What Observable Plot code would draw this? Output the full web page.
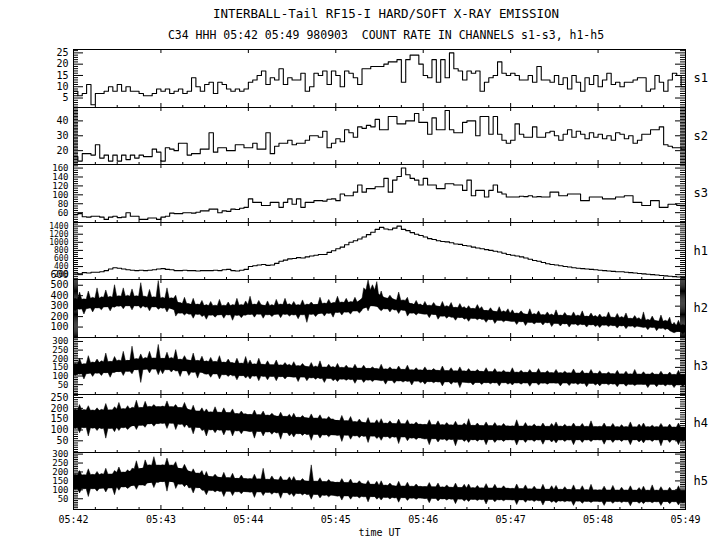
<!DOCTYPE html>
<html><head><meta charset="utf-8">
<script src="https://cdn.jsdelivr.net/npm/d3@7"></script>
<script src="https://cdn.jsdelivr.net/npm/@observablehq/plot@0.6"></script>
<style>
body{margin:0;background:#fff;}
#wrap{position:relative;width:720px;height:550px;font-family:"DejaVu Sans Mono",monospace;color:#000;overflow:hidden;}
.t{position:absolute;left:26px;width:720px;text-align:center;white-space:pre;line-height:1;}
.panel{position:absolute;left:0;}
</style></head><body>
<div id="wrap">
<div class="t" style="top:8px;font-size:12.5px">INTERBALL-Tail RF15-I HARD/SOFT X-RAY EMISSION</div>
<div class="t" style="top:30px;font-size:11.5px">C34 HHH 05:42 05:49 980903  COUNT RATE IN CHANNELS s1-s3, h1-h5</div>
</div>
<script>
// time tick labels (minutes) and channel names
const minuteLabels = ["05:42","05:43","05:44","05:45","05:46","05:47","05:48","05:49"];
const channels = ["s1","s2","s3","h1","h2","h3","h4","h5"];

// soft channels & h1: count rate per 3 s bin, 05:42:00 -> 05:49:00 (140 bins)
const s1 = [8,6,7,11,2,7,7,8,10,8, 11,8,10,8,8,7,6,6,7,9, 8,9,7,8,9,7,8,14,10,8, 11,12,7,12,11,9,8,9,8,9,
 12,13,15,17,11,14,13,18,11,14, 13,13,16,8,10,16,15,17,11,17, 15,10,17,16,14,11,18,18,19,19,
 19,20,21,21,22,12,22,24,24,20, 15,14,22,12,22,14,25,18,17,13, 17,16,17,8,12,14,15,21,16,15,
 16,15,13,13,15,12,19,13,13,12, 15,11,14,9,15,12,8,14,11,15, 10,13,16,11,12,10,12,12,13,14,
 14,8,9,15,12,8,13,16,15,10];
const s2 = [16,13,18,18,17,24,15,17,13,17, 13,17,14,17,15,17,16,16,21,19, 13,22,21,20,25,25,17,18,18,21,
 21,32,19,22,22,20,20,24,24,22, 22,25,21,21,32,18,23,25,25,27, 24,25,25,27,30,30,29,33,22,25,
 28,26,34,32,29,36,35,37,36,41, 34,34,43,43,38,38,40,40,45,39, 39,31,42,34,34,47,34,32,32,39,
 40,40,30,43,43,31,43,31,27,25, 27,38,31,29,29,36,29,29,32,33, 30,27,31,34,29,33,31,28,32,29,
 31,28,30,27,32,31,28,30,25,27, 31,31,34,34,36,24,23,22,22,21];
const s3 = [56,58,51,50,52,52,50,45,50,52, 49,50,60,52,52,45,45,48,48,45, 50,52,59,58,58,60,60,59,61,64,
 64,68,68,60,64,63,68,67,70,72, 91,83,83,76,76,83,83,72,83,91, 79,91,72,83,83,87,87,86,90,91,
 87,102,98,98,106,122,106,114,114,118, 118,137,106,133,141,160,145,137,133,122, 137,122,122,114,114,125,125,122,122,110,
 133,98,110,110,95,110,122,106,102,95, 95,95,97,96,98,95,96,95,95,106, 106,98,98,102,102,102,87,87,95,95,
 95,91,91,91,95,95,98,98,83,83, 76,76,87,87,72,72,79,79,76,76];
const h1 = [240,220,250,240,260,260,270,300,340,370, 360,340,320,310,300,310,300,310,320,340, 350,330,320,300,300,310,300,300,290,300,
 300,300,310,300,320,330,300,290,310,330, 400,420,440,450,430,440,480,530,560,590, 600,620,610,640,660,680,700,700,750,790,
 840,880,940,1000,1040,1080,1130,1190,1250,1320, 1370,1330,1310,1350,1400,1320,1290,1240,1200,1170, 1130,1090,1070,1040,1020,1010,990,960,950,920,
 910,880,860,840,820,800,780,760,730,700, 680,660,640,610,580,550,530,500,470,450, 440,420,400,390,370,360,350,340,330,320,
 310,300,290,280,270,270,260,250,240,230, 220,210,200,190,180,170,160,150,140,130];

// hard channels h2-h5: upper / lower extremes of the noisy trace per 3 s bin (140 bins)
const h2Hi = [370,430,365, 440,380,470, 385,450,390,500, 395,470,400, 460,395,520, 390,455,385,540, 380,470,375, 400,330,380, 320,370,315,350,
 310,340,305, 360,305,335, 310,370,312,345, 390,315,350, 305,345,310, 360,315,370,318, 340,310,355, 315,335,312, 380,325,360,330,
 390,335,370, 340,380,345, 470,545,500,530, 440,375,400, 360,430,355, 380,320,350,315, 340,305,330, 295,340,300, 330,285,320,290,
 300,275,310, 290,255,280, 245,290,250,270, 260,230,250, 220,270,225, 250,215,240,220, 260,210,235, 205,240,210, 250,200,230,205,
 220,195,240, 190,225,195, 230,180,205,185, 240,170,200, 155,210,160, 190,140,160,120];
const h2Lo = [250,265,220, 275,240,278, 260,288,250,285, 295,270,298, 260,297,275, 285,250,288,265, 275,240,278, 200,228,210, 218,180,215,195,
 170,208,190, 212,180,210, 160,205,185,208, 215,190,218, 180,212,195, 218,185,215,200, 210,175,212, 140,215,195, 228,200,225,190,
 235,210,238, 220,248,230, 290,250,298,300, 250,268,240, 258,225,255, 200,228,210,225, 218,185,215, 170,198,180, 188,160,185,170,
 150,178,165, 168,140,165, 130,158,145,155, 148,120,145, 110,138,125, 138,115,135,100, 128,105,125, 95,122,110, 118,95,115,100,
 90,112,100, 108,85,105, 80,102,90,100, 92,70,90, 60,82,70, 60,40,55,30];
const h3Hi = [170,200,168, 215,178,195, 185,230,182,210, 190,240,188, 270,198,225, 205,240,202,280, 200,235,205, 250,195,215, 190,230,188,212,
 185,205,182, 215,178,195, 175,200,172,210, 190,168,200, 165,185,163, 190,162,175,165, 180,158,170, 152,175,155, 185,150,165,152,
 170,148,160, 145,165,143, 160,142,150,141, 165,139,150, 138,155,136, 160,134,145,133, 150,132,140, 130,155,129, 145,128,150,127,
 140,126,135, 124,145,123, 140,122,130,121, 145,120,130, 119,135,118, 140,118,128,117, 135,117,125, 116,138,115, 130,114,135,113,
 128,112,120, 111,130,110, 125,110,135,109, 122,109,118, 108,125,107, 120,107,130,106];
const h3Lo = [100,108,80, 112,95,113, 100,116,90,117, 122,100,123, 110,133,60, 136,115,137,105, 110,133,120, 126,95,127, 100,118,85,119,
 108,90,109, 80,104,95, 98,75,99,85, 80,96,70, 94,75,95, 70,93,80,94, 90,65,91, 70,86,78, 82,60,83,70,
 65,78,72, 76,55,77, 60,73,65,74, 70,50,71, 55,68,62, 66,45,67,58, 50,64,58, 62,40,63, 50,60,30,61,
 58,45,59, 48,58,52, 57,40,58,50, 45,56,50, 56,38,57, 45,55,50,56, 55,40,56, 42,54,48, 53,35,54,45,
 40,52,46, 50,35,51, 38,48,42,49, 48,30,49, 35,47,40, 46,30,47,38];
const h4Hi = [195,215,192, 210,190,200, 193,220,191,205, 225,197,210, 203,235,202, 230,207,215,206, 208,232,206, 215,202,225, 188,212,186,200,
 195,182,205, 180,200,179, 195,174,185,173, 170,190,169, 185,167,175, 162,180,161,170, 175,157,165, 154,172,153, 168,150,160,149,
 142,165,141, 160,137,148, 132,155,131,145, 150,130,140, 128,148,127, 145,126,135,125, 124,145,123, 140,123,132, 122,138,121,130,
 150,120,130, 119,135,118, 132,118,128,117, 117,145,116, 132,117,125, 116,130,115,128, 135,116,124, 116,130,115, 128,115,140,114,
 115,130,114, 128,114,122, 114,135,113,125, 130,114,120, 114,128,113, 125,112,130,111];
const h4Lo = [105,85,108, 70,106,95, 104,60,105,90, 95,108,100, 118,100,119, 110,126,115,127, 128,105,129, 100,123,110, 108,80,109,95,
 70,98,85, 96,75,97, 70,93,80,94, 90,60,91, 70,88,78, 84,55,85,70, 65,80,72, 76,50,77, 60,74,66,75,
 72,45,73, 55,70,62, 68,40,69,58, 50,66,58, 64,35,65, 48,60,54,61, 56,30,57, 42,54,48, 53,25,54,45,
 40,52,46, 52,30,53, 40,51,45,52, 51,28,52, 40,51,45, 51,32,52,42, 38,51,45, 51,30,52, 40,51,44,52,
 51,32,52, 40,51,45, 51,30,52,42, 38,51,45, 51,25,52, 40,51,30,45];
const h5Hi = [185,205,182, 215,184,200, 188,218,186,205, 225,197,210, 218,260,216, 265,237,283,236, 238,275,236, 255,217,240, 192,215,191,205,
 200,172,185, 167,195,166, 190,162,180,161, 160,185,159, 218,157,175, 154,175,153,170, 172,150,160, 147,237,146, 165,144,155,143,
 140,160,139, 158,136,148, 130,150,129,145, 148,124,135, 120,145,119, 140,118,130,117, 116,138,115, 135,114,125, 112,135,111,128,
 130,110,122, 109,132,108, 128,108,120,107, 106,130,105, 125,104,118, 102,128,101,120, 122,101,115, 100,125,99, 120,99,128,98,
 98,118,97, 122,97,112, 97,120,96,110, 118,96,125, 96,115,95, 112,95,120,94];
const h5Lo = [100,80,103, 60,103,90, 106,85,107,70, 95,113,105, 123,100,124, 120,138,110,139, 143,90,144, 105,128,115, 108,80,109,95,
 70,93,85, 88,60,89, 65,86,75,87, 84,55,85, 65,82,72, 80,50,81,68, 60,76,68, 70,45,71, 52,66,58,67,
 62,40,63, 45,60,52, 58,30,59,45, 40,54,46, 52,28,53, 38,50,44,51, 48,25,49, 35,46,40, 44,20,45,35,
 32,43,38, 42,18,43, 30,41,36,42, 40,15,41, 28,38,32, 36,12,37,28, 25,34,30, 33,10,34, 22,32,27,33,
 31,10,32, 22,31,26, 30,8,31,22, 20,30,25, 30,10,31, 20,30,12,25];

// hard channels h2-h5: dense core of the trace per 10 s bin (42 bins)
const h2CoreLo = [270,280,290,300,300,290,280,230,220,210, 215,210,220,215,220,215,220,230,240,250, 300,270,260,230,220,200,190,180,170,160,
 150,140,140,130,125,120,115,110,105,95, 85,50];
const h2CoreHi = [360,370,380,390,390,380,370,320,310,300, 300,305,310,300,310,305,310,320,330,335, 450,370,350,310,300,290,280,270,250,240,
 225,215,210,205,200,195,190,185,175,160, 150,110];
const h3CoreLo = [110,115,118,125,135,138,135,128,120,110, 106,100,98,96,95,92,88,84,80,78, 75,72,70,68,66,64,62,60,60,59,
 58,58,57,57,56,55,54,52,50,50, 49,48];
const h3CoreHi = [165,175,180,185,195,200,198,192,185,180, 175,170,165,162,160,155,150,148,145,142, 140,137,135,132,130,128,126,124,122,120,
 118,117,116,115,114,112,110,109,108,107, 106,105];
const h4CoreLo = [110,108,106,110,120,128,130,125,110,100, 98,95,92,90,86,82,78,76,74,72, 70,68,66,62,58,56,55,54,54,53,
 53,53,53,53,53,53,53,53,53,53, 53,53];
const h4CoreHi = [190,188,190,195,200,205,205,200,185,180, 178,172,168,165,160,155,152,148,140,135, 130,128,126,124,122,121,120,118,117,116,
 115,115,114,114,114,113,113,112,112,112, 112,110];
const h5CoreLo = [105,105,108,115,125,140,145,130,110,95, 90,88,86,84,82,78,72,68,64,62, 60,56,54,52,50,48,46,45,44,43,
 42,40,38,36,35,34,33,33,32,32, 32,32];
const h5CoreHi = [180,182,185,195,215,235,235,215,190,170, 165,160,158,155,152,148,145,142,138,134, 128,122,118,116,114,112,110,108,107,106,
 104,102,100,99,98,97,96,95,95,94, 94,93];

// y tick labels per panel
const s1Ticks = [5,10,15,20,25];
const s2Ticks = [20,30,40];
const s3Ticks = [60,80,100,120,140,160];
const h1Ticks = [200,400,600,800,1000,1200,1400];
const h2Ticks = [100,200,300,400,500,600];
const h3Ticks = [50,100,150,200,250,300];
const h4Ticks = [50,100,150,200,250];
const h5Ticks = [50,100,150,200,250,300];

const BIN = 3, CORE = 10; // seconds per bin
const panels = [
  {name:"s1", values:s1, domain:[0.8,26.5], ticks:s1Ticks, minor:1, fs:10},
  {name:"s2", values:s2, domain:[10.7,49], ticks:s2Ticks, minor:1, fs:10},
  {name:"s3", values:s3, domain:[38,168], ticks:s3Ticks, minor:5, fs:9},
  {name:"h1", values:h1, domain:[80,1490], ticks:h1Ticks, minor:50, fs:8},
  {name:"h2", lo:h2Lo, hi:h2Hi, cLo:h2CoreLo, cHi:h2CoreHi, domain:[0,555], ticks:h2Ticks, minor:10, fs:10},
  {name:"h3", lo:h3Lo, hi:h3Hi, cLo:h3CoreLo, cHi:h3CoreHi, domain:[-7,323], ticks:h3Ticks, minor:10, fs:9},
  {name:"h4", lo:h4Lo, hi:h4Hi, cLo:h4CoreLo, cHi:h4CoreHi, domain:[-4,264], ticks:h4Ticks, minor:10, fs:10},
  {name:"h5", lo:h5Lo, hi:h5Hi, cLo:h5CoreLo, cHi:h5CoreHi, domain:[-10,309], ticks:h5Ticks, minor:10, fs:9}
];

const tops = [49,107,164,222,279,337,394,452,509];
const LEFT = 73, RIGHT = 685, W = RIGHT - LEFT;
const xMajor = d3.range(0, 421, 60);
const xMinor = d3.range(0, 421, 15).filter(d => d % 60 !== 0);
const wrap = document.getElementById("wrap");

panels.forEach((p, i) => {
  const top = tops[i], h = tops[i+1] - top, last = i === panels.length - 1;
  const mt = 14, mb = last ? 40 : 14;
  const yMinor = d3.range(Math.ceil(p.domain[0] / p.minor) * p.minor, p.domain[1] + 1e-9, p.minor)
    .filter(d => !p.ticks.includes(d));
  const yMajor = p.ticks.filter(d => d <= p.domain[1]);
  const marks = [];
  if (p.values) {
    const pts = p.values.map((v, j) => ({t: j * BIN, v}));
    pts.push({t: p.values.length * BIN, v: p.values[p.values.length - 1]});
    marks.push(Plot.line(pts, {x: "t", y: "v", curve: "step-after", stroke: "black", strokeWidth: 1.1, clip: true}));
  } else {
    const core = p.cLo.map((v, j) => ({t: j * CORE + CORE / 2, lo: v, hi: p.cHi[j]}));
    core.unshift({t: 0, lo: p.cLo[0], hi: p.cHi[0]});
    core.push({t: 420, lo: p.cLo[p.cLo.length - 1], hi: p.cHi[p.cHi.length - 1]});
    // outline: each 3 s bin rises from the core edge to its extreme and back (narrow spikes)
    const spikes = [];
    p.lo.forEach((v, j) => {
      const k = Math.min(p.cLo.length - 1, Math.floor(j * BIN / CORE));
      spikes.push({t: j * BIN, lo: p.cLo[k], hi: p.cHi[k]});
      spikes.push({t: j * BIN + BIN / 2, lo: v, hi: p.hi[j]});
    });
    spikes.push({t: 420, lo: p.cLo[p.cLo.length - 1], hi: p.cHi[p.cHi.length - 1]});
    marks.push(
      Plot.areaY(core, {x: "t", y1: "lo", y2: "hi", fill: "black", curve: "linear", clip: true}),
      Plot.areaY(spikes, {x: "t", y1: "lo", y2: "hi", fill: "black", stroke: "black", strokeWidth: 0.5, curve: "linear", clip: true})
    );
  }
  marks.push(
    Plot.frame({stroke: "black"}),
    // y ticks, inward, on both sides
    Plot.tickY(yMajor, {y: d => d, insetRight: W - 10, stroke: "black"}),
    Plot.tickY(yMinor, {y: d => d, insetRight: W - 5, stroke: "black"}),
    Plot.tickY(yMajor, {y: d => d, insetLeft: W - 10, stroke: "black"}),
    Plot.tickY(yMinor, {y: d => d, insetLeft: W - 5, stroke: "black"}),
    // x ticks, inward, bottom and top
    Plot.tickX(xMajor, {x: d => d, insetTop: h - 4, stroke: "black"}),
    Plot.tickX(xMinor, {x: d => d, insetTop: h - 2, stroke: "black"}),
    Plot.tickX(xMajor, {x: d => d, insetBottom: h - 4, stroke: "black"}),
    Plot.axisY({ticks: p.ticks, tickSize: 0, tickPadding: 5, tickFormat: d => String(d), label: null, fontSize: p.fs}),
    Plot.text([p.name], {text: d => d, frameAnchor: "right", dx: 8, textAnchor: "start", fontSize: 12})
  );
  if (last) {
    marks.push(
      Plot.axisX({ticks: xMajor, tickSize: 0, tickPadding: 6, label: null, fontSize: 10, tickFormat: d => minuteLabels[d / 60]}),
      Plot.text(["time UT"], {text: d => d, frameAnchor: "bottom", dy: 26, fontSize: 10})
    );
  } else {
    marks.push(Plot.axisX({ticks: [], label: null}));
  }
  const svg = Plot.plot({
    width: 720, height: h + mt + mb,
    marginLeft: LEFT, marginRight: 720 - RIGHT, marginTop: mt, marginBottom: mb,
    x: {domain: [0, 420]},
    y: {domain: p.domain},
    style: {background: "transparent", overflow: "visible", fontFamily: "DejaVu Sans Mono, monospace", fontSize: "10px", color: "black"},
    marks
  });
  svg.classList.add("panel");
  svg.style.top = (top - mt) + "px";
  wrap.appendChild(svg);
});
</script>
</body></html>
